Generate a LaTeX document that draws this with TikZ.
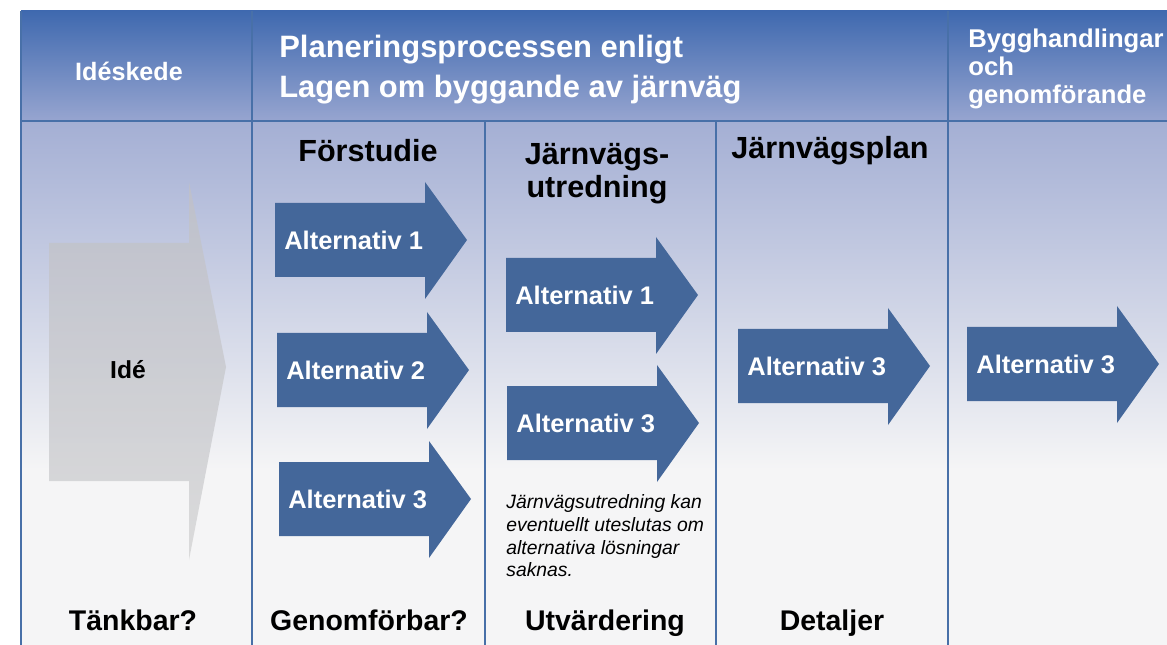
\documentclass[tikz,border=0pt]{standalone}
\usepackage{fontspec}
\setmainfont{Liberation Sans}
\usetikzlibrary{calc}
\definecolor{hdtop}{HTML}{3F69AF}
\definecolor{hdbot}{HTML}{97A5D0}
\definecolor{bdtop}{HTML}{A4AFD4}
\definecolor{bdbot}{HTML}{F5F5F6}
\definecolor{linje}{HTML}{4870A8}
\definecolor{pilbla}{HTML}{44679A}
\definecolor{gratop}{HTML}{BEC0CA}
\definecolor{grabot}{HTML}{D8D8D8}
\tikzset{
  ram/.style={draw=linje, line width=0.05cm},
  alt/.style={anchor=west, text=white, inner sep=0pt, font=\fontsize{14.5}{16}\selectfont\bfseries},
  rubrik/.style={inner sep=0pt, align=center, font=\fontsize{17.4}{18.7}\selectfont\bfseries},
  fot/.style={anchor=base, inner sep=0pt, font=\fontsize{16.2}{18}\selectfont\bfseries},
  vit/.style={text=white, inner sep=0pt, align=left},
}
% blue arrow: name, x, y (shaft top left), text
\newcommand{\altpil}[4]{%
  \fill[pilbla] (#2,#3) -- ++(150,0) -- ++(0,-21) -- ++(42,58) -- ++(-42,59) -- ++(0,-22) -- ++(-150,0) -- cycle;
  \node[alt] (#1) at (#2+9,#3+37) {#4};
}
\begin{document}
\begin{tikzpicture}[x=0.02cm, y=-0.02cm]
    \useasboundingbox (0,0) rectangle (1167,645);
    %background
    \shade[top color=hdtop, bottom color=hdbot] (21,11) rectangle (1167,121);
    \shade[top color=bdtop, bottom color=bdbot] (21,121) rectangle (1167,470);
    \fill[bdbot] (21,469) rectangle (1167,645);
    %lines
    \draw[ram] (21,11) -- (21,645);
    \draw[ram] (252,11) -- (252,645);
    \draw[ram] (948,11) -- (948,645);
    \draw[ram] (485,121) -- (485,645);
    \draw[ram] (716,121) -- (716,645);
    \draw[ram] (21,121) -- (1167,121);

    %header
    \node[vit, font=\fontsize{14.3}{16}\selectfont\bfseries] (ideskede) at (129,71) {Idéskede};
    \node[vit, anchor=west, font=\fontsize{17.6}{22.7}\selectfont\bfseries] (planering) at (279,70) {Planeringsprocessen enligt\\Lagen om byggande av järnväg};
    \node[vit, anchor=west, font=\fontsize{14.6}{16}\selectfont\bfseries] (bygg) at (968,69) {Bygghandlingar\\och\\genomförande};

    %Idé
    \shade[top color=gratop, bottom color=grabot, opacity=0.9] (49,243) -- (189,243) -- (189,182) -- (226,367) -- (189,560) -- (189,481) -- (49,481) -- cycle;
    \node[inner sep=0pt, font=\fontsize{14}{16}\selectfont\bfseries] (ide) at (128,370) {Idé};

    %Förstudie
    \node[rubrik] (forstudie) at (368,151) {Förstudie};
    \altpil{f1}{275}{203}{Alternativ 1}
    \altpil{f2}{277}{333}{Alternativ 2}
    \altpil{f3}{279}{462}{Alternativ 3}

    %Järnvägsutredning
    \node[rubrik] (utredning) at (597,174) {Järnvägs-\\utredning};
    \altpil{u1}{506}{258}{Alternativ 1}
    \altpil{u3}{507}{386}{Alternativ 3}
    \node[anchor=north west, inner sep=0pt, align=left, font=\fontsize{11}{13}\selectfont\itshape] (not) at (506,494) {Järnvägsutredning kan\\eventuellt uteslutas om\\alternativa lösningar\\saknas.};

    %Järnvägsplan
    \node[rubrik] (plan) at (830,151) {Järnvägsplan};
    \altpil{p3}{738}{329}{Alternativ 3}

    %Bygghandlingar
    \altpil{b3}{967}{327}{Alternativ 3}

    %bottom
    \node[fot] (tankbar) at (133,630) {Tänkbar?};
    \node[fot] (genomforbar) at (369,630) {Genomförbar?};
    \node[fot] (utvardering) at (605,630) {Utvärdering};
    \node[fot] (detaljer) at (832,630) {Detaljer};
\end{tikzpicture}
\end{document}
